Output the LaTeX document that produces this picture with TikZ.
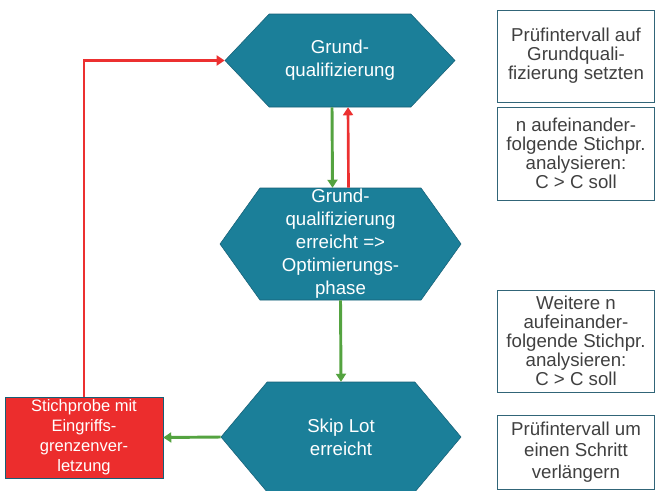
\documentclass[tikz,border=0pt]{standalone}
\usepackage{fontspec}
\setmainfont{Liberation Sans}
\usetikzlibrary{shapes.symbols,arrows.meta}
\definecolor{hexfill}{RGB}{27,127,153}
\definecolor{hexline}{RGB}{22,95,118}
\definecolor{alarmred}{RGB}{236,45,45}
\definecolor{okgreen}{RGB}{84,163,64}
\definecolor{failred}{RGB}{236,48,48}
\definecolor{notetext}{RGB}{64,64,64}
\definecolor{noteline}{RGB}{49,101,120}
\begin{document}
\begin{tikzpicture}[x=0.75pt,y=-0.75pt,
    hexa/.style={signal, signal to=east and west, fill=hexfill, draw=hexline,
        text=white, align=center, inner sep=0pt,
        font=\fontsize{14}{17.25}\selectfont},
    alarm/.style={rectangle, fill=alarmred, draw=hexline, text=white, align=center,
        minimum width=118.5pt, minimum height=60.75pt, inner sep=0pt,
        font=\fontsize{12.4}{15}\selectfont},
    note/.style={rectangle, draw=noteline, text=notetext, align=center,
        minimum width=117.75pt, inner sep=0pt, font=\fontsize{14}{14.3}\selectfont},
    okline/.style={okgreen, line width=2.2pt, -{Triangle[width=7.5pt,length=6pt]}},
    failline/.style={failred, line width=2pt, -{Triangle[width=7.5pt,length=6pt]}}]
    \useasboundingbox (0,0) rectangle (655,490);

    % process steps
    \node[hexa, minimum width=172.5pt, minimum height=69.75pt, signal pointer angle=93]
        (grund) at (340,60.5) {Grund-\\qualifizierung};
    \node[hexa, minimum width=180.75pt, minimum height=84pt, signal pointer angle=109]
        (optim) at (340.5,244) {Grund-\\qualifizierung\\erreicht =>\\Optimierungs-\\phase};
    \node[hexa, minimum width=180pt, minimum height=82.5pt, signal pointer angle=100]
        (skip) at (341,437) {Skip Lot\\erreicht};
    \node[alarm] (stich) at (84,437.5) {Stichprobe mit\\Eingriffs-\\grenzenver-\\letzung};

    % notes on the right
    \node[note, minimum height=69pt] (n1) at (576,56) {Prüfintervall auf\\Grundquali-\\fizierung setzten};
    \node[note, minimum height=69.75pt] (n2) at (576,153.5) {n aufeinander-\\folgende Stichpr.\\analysieren:\\C > C soll};
    \node[note, minimum height=76.5pt] (n3) at (576,341) {Weitere n\\aufeinander-\\folgende Stichpr.\\analysieren:\\C > C soll};
    \node[note, minimum height=55.5pt, font=\fontsize{14}{15.9}\selectfont]
        (n4) at (576,452) {Prüfintervall um\\einen Schritt\\verlängern};

    % transitions
    \draw[okline] ([xshift=-6pt]grund.south) -- ([xshift=-6pt]optim.north);
    \draw[failline] ([xshift=6pt]optim.north) -- ([xshift=6pt]grund.south);
    \draw[okline] (optim.south) -- (skip.north);
    \draw[okline] (skip.west) -- (stich.east);
    \draw[failline] (stich.north) |- (grund.west);
\end{tikzpicture}
\end{document}
